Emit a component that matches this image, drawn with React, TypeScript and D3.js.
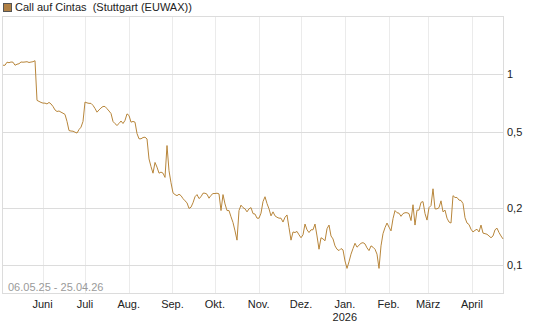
import * as d3 from "d3";
import React, { useEffect, useRef } from "react";

const title = "Call auf Cintas  (Stuttgart (EUWAX))";
const rangeLabel = "06.05.25 - 25.04.26";
const yTicks = [1, 0.5, 0.2, 0.1];
const yTickLabels = ["1", "0,5", "0,2", "0,1"];
const monthLabels = ["Juni", "Juli", "Aug.", "Sep.", "Okt.", "Nov.", "Dez.", "Jan.", "Feb.", "März", "April"];
const startDate = new Date(2025, 4, 4);
const endDate = new Date(2026, 3, 23);

// price, evenly spaced from start to end
const prices = [
	1.115, 1.115, 1.157, 1.15, 1.16, 1.157, 1.115, 1.129, 1.136, 1.16, 1.157, 1.16, 1.164, 1.153, 1.159, 1.164, 1.178,
	0.73, 0.721, 0.712, 0.706, 0.706, 0.699, 0.712, 0.699, 0.678, 0.65, 0.638, 0.642, 0.633, 0.625, 0.616, 0.566, 0.507,
	0.504, 0.503, 0.497, 0.492, 0.513, 0.528, 0.566, 0.715, 0.708, 0.704, 0.704, 0.687, 0.662, 0.633, 0.65, 0.666, 0.678,
	0.678, 0.66, 0.642, 0.623, 0.566, 0.551, 0.539, 0.552, 0.569, 0.552, 0.573, 0.62, 0.608, 0.561, 0.566, 0.561, 0.489,
	0.459, 0.459, 0.466, 0.468, 0.458, 0.36, 0.328, 0.303, 0.345, 0.326, 0.303, 0.307, 0.303, 0.288, 0.423, 0.312, 0.27,
	0.239, 0.234, 0.231, 0.235, 0.231, 0.223, 0.217, 0.212, 0.198, 0.201, 0.212, 0.228, 0.234, 0.223, 0.228, 0.238, 0.238,
	0.235, 0.224, 0.232, 0.237, 0.237, 0.238, 0.236, 0.193, 0.234, 0.209, 0.193, 0.193, 0.179, 0.167, 0.151, 0.135, 0.193,
	0.206, 0.2, 0.197, 0.19, 0.197, 0.2, 0.186, 0.185, 0.176, 0.176, 0.187, 0.215, 0.228, 0.21, 0.197, 0.181, 0.19, 0.181,
	0.178, 0.176, 0.176, 0.168, 0.178, 0.183, 0.157, 0.135, 0.149, 0.148, 0.15, 0.144, 0.139, 0.144, 0.164, 0.153, 0.148,
	0.153, 0.153, 0.164, 0.142, 0.121, 0.139, 0.137, 0.134, 0.155, 0.162, 0.142, 0.137, 0.126, 0.121, 0.119, 0.122, 0.12,
	0.105, 0.096, 0.104, 0.114, 0.122, 0.13, 0.124, 0.127, 0.13, 0.131, 0.129, 0.123, 0.119, 0.126, 0.124, 0.121, 0.114,
	0.096, 0.126, 0.146, 0.157, 0.166, 0.158, 0.151, 0.175, 0.193, 0.188, 0.187, 0.18, 0.186, 0.188, 0.188, 0.186, 0.171,
	0.207, 0.162, 0.194, 0.194, 0.213, 0.215, 0.186, 0.172, 0.2, 0.205, 0.251, 0.197, 0.197, 0.2, 0.217, 0.19, 0.194,
	0.176, 0.168, 0.166, 0.231, 0.226, 0.226, 0.219, 0.218, 0.21, 0.177, 0.166, 0.163, 0.154, 0.149, 0.152, 0.154, 0.149,
	0.162, 0.147, 0.146, 0.145, 0.142, 0.139, 0.142, 0.153, 0.156, 0.148, 0.142, 0.137,
];

export default function App() {
	const svgRef = useRef(null);

	useEffect(() => {
		const width = 545;
		const height = 327;
		const left = 3;
		const right = 503;
		const top = 16;
		const bottom = 293;
		const font = "Liberation Sans, Arial, sans-serif";

		const svg = d3.select(svgRef.current);
		svg.selectAll("*").remove();
		svg.attr("width", width).attr("height", height).style("font-family", font);

		const x = d3.scaleTime().domain([startDate, endDate]).range([left, right]);
		const y = d3.scaleLog().domain([2.021, 0.07133]).range([top, bottom]);

		const step = (endDate.getTime() - startDate.getTime()) / (prices.length - 1);
		const data = prices.map((v, i) => ({ date: new Date(startDate.getTime() + i * step), value: v }));

		const months = d3.timeMonth.range(new Date(2025, 5, 1), new Date(2026, 4, 1));

		// vertical grid (months)
		svg
			.append("g")
			.attr("stroke", "#ebebeb")
			.selectAll()
			.data(months)
			.join("line")
			.attr("x1", (d) => Math.round(x(d)) + 0.5)
			.attr("x2", (d) => Math.round(x(d)) + 0.5)
			.attr("y1", top)
			.attr("y2", bottom);

		// horizontal grid
		svg
			.append("g")
			.attr("stroke", "#dcdcdc")
			.selectAll()
			.data(yTicks)
			.join("line")
			.attr("x1", left)
			.attr("x2", right)
			.attr("y1", (d) => Math.round(y(d)) + 0.5)
			.attr("y2", (d) => Math.round(y(d)) + 0.5);

		// frame
		svg
			.append("rect")
			.attr("x", left - 0.5)
			.attr("y", top + 0.5)
			.attr("width", right - left + 1)
			.attr("height", bottom - top)
			.attr("fill", "none")
			.attr("stroke", "#dcdcdc");

		// y labels
		svg
			.append("g")
			.selectAll()
			.data(yTicks)
			.join("text")
			.attr("x", right + 4)
			.attr("y", (d) => y(d) + 4)
			.attr("font-size", 11)
			.attr("fill", "#222")
			.text((d, i) => yTickLabels[i]);

		// x labels
		svg
			.append("g")
			.selectAll()
			.data(months)
			.join("text")
			.attr("x", (d) => x(d))
			.attr("y", bottom + 15)
			.attr("text-anchor", "middle")
			.attr("font-size", 11)
			.attr("fill", "#222")
			.text((d, i) => monthLabels[i]);
		svg
			.append("text")
			.attr("x", x(new Date(2026, 0, 1)))
			.attr("y", bottom + 28)
			.attr("text-anchor", "middle")
			.attr("font-size", 11)
			.attr("fill", "#222")
			.text("2026");

		// range label
		svg
			.append("text")
			.attr("x", 8)
			.attr("y", bottom - 2)
			.attr("font-size", 11)
			.attr("fill", "#9a9a9a")
			.text(rangeLabel);

		// price line
		const line = d3
			.line<{ date: Date; value: number }>()
			.x((d) => x(d.date))
			.y((d) => y(d.value));
		svg
			.append("path")
			.datum(data)
			.attr("fill", "none")
			.attr("stroke", "#b8863b")
			.attr("stroke-width", 1)
			.attr("stroke-linejoin", "round")
			.attr("d", line);

		// legend
		svg
			.append("rect")
			.attr("x", 3.5)
			.attr("y", 3.5)
			.attr("width", 8)
			.attr("height", 8)
			.attr("fill", "#b08044")
			.attr("stroke", "#555");
		svg
			.append("text")
			.attr("x", 15)
			.attr("y", 11)
			.attr("font-size", 11)
			.attr("fill", "#222")
			.style("white-space", "pre")
			.text(title);
	}, []);

	return (
		<div style={{ position: "absolute", left: 0, top: 0 }}>
			<svg ref={svgRef} />
		</div>
	);
}
